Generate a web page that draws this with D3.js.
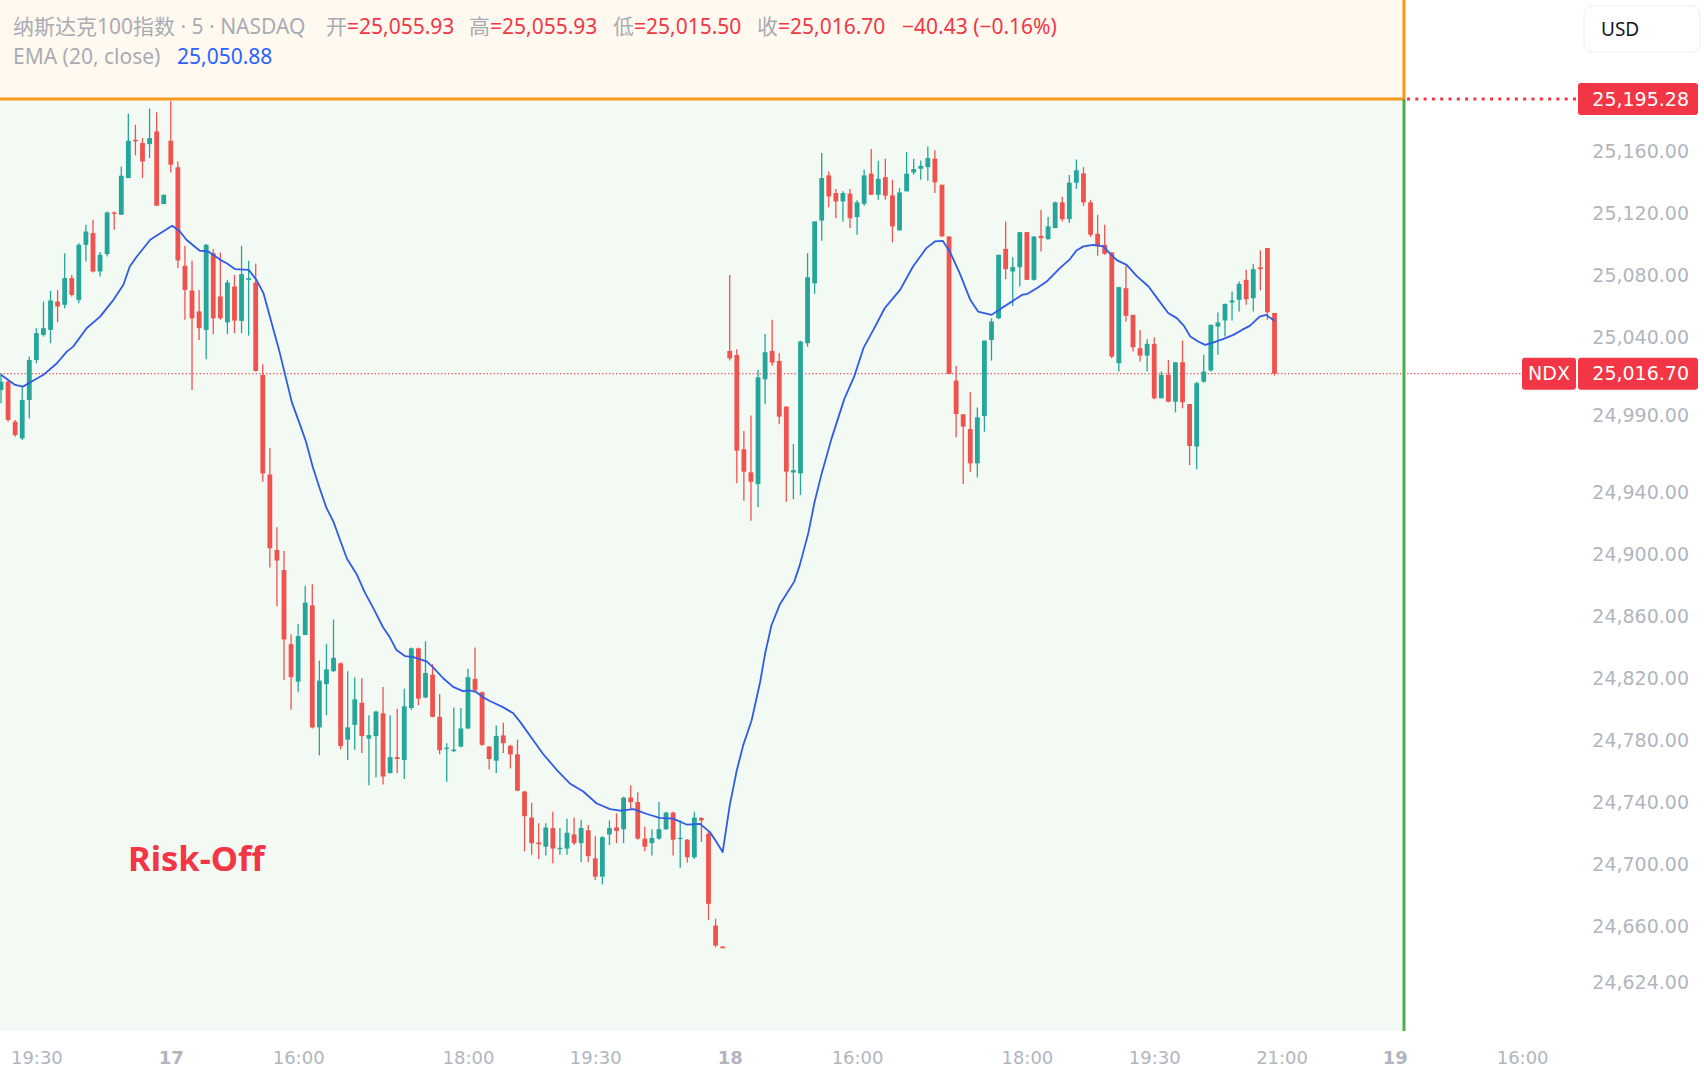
<!DOCTYPE html>
<html>
<head>
<meta charset="utf-8">
<script src="https://cdn.jsdelivr.net/npm/d3@7"></script>
<style>
body { margin: 0; background: #ffffff; }
svg { display: block; font-family: "Noto Sans", "Noto Sans CJK SC", sans-serif; }
</style>
</head>
<body>
<svg width="1704" height="1080"></svg>
<script>
// 5 min bars, bar 0 = 19:00 on the 16th, bar 24 = day 17 open, bar 103 = day 18 open
var barOpen = [
25006.2,25011.6,24985.8,24975.0,24999.8,25025.6,25041.8,25045.0,25063.3,25061.2,
25078.4,25064.4,25099.9,25107.5,25082.7,25093.9,25120.8,25119.3,25143.0,25167.7,
25165.6,25164.9,25173.1,25126.2,25167.1,25149.9,25086.4,25070.4,25056.9,25045.0,
25094.5,25066.6,25049.9,25073.0,25050.8,25077.3,25075.6,25015.9,24951.7,24903.0,
24890.0,24842.2,24818.0,24848.1,24867.2,24788.5,24816.4,24824.8,24829.8,24780.6,
24790.1,24804.4,24781.3,24782.9,24797.6,24759.1,24769.3,24767.5,24801.0,24839.5,
24807.8,24822.5,24795.3,24774.5,24773.1,24776.1,24787.8,24819.8,24811.2,24776.1,
24767.0,24783.3,24776.7,24771.1,24747.1,24730.3,24714.2,24711.5,24723.5,24709.9,
24710.3,24719.4,24713.8,24722.1,24704.0,24692.2,24719.4,24723.9,24722.8,24743.2,
24740.3,24716.7,24713.8,24716.7,24722.8,24733.5,24716.5,24716.0,24704.7,24730.0,
24719.8,24660.6,24647.0,25031.4,25028.8,24968.0,24953.1,24945.5,25013.1,25031.4,
25025.0,24995.5,24953.0,24952.4,25036.4,25075.1,25115.6,25144.7,25133.3,25127.9,
25132.9,25117.8,25126.4,25145.8,25132.2,25143.6,25131.8,25109.2,25134.4,25146.6,
25149.0,25150.1,25155.5,25138.7,25105.3,25012.3,24990.5,24981.0,24958.9,24989.4,
25038.5,25052.5,25097.3,25082.7,25085.5,25108.1,25077.3,25105.7,25103.6,25110.7,
25127.3,25116.5,25140.0,25146.0,25127.3,25107.0,25099.9,25095.0,25023.5,25071.9,
25054.7,25033.2,25028.4,25036.0,25000.9,25015.9,24998.7,25024.1,24997.2,24969.7,
25011.6,25018.8,25047.2,25051.1,25062.7,25064.4,25077.3,25065.5,25085.3,25097.8,
25055.93];
var barHigh = [
25017.0,25012.7,24986.9,25008.4,25027.8,25046.1,25063.3,25070.2,25070.8,25094.5,
25080.5,25101.0,25112.8,25116.1,25095.2,25121.4,25121.4,25150.5,25184.5,25177.4,
25168.8,25187.8,25185.4,25132.2,25192.5,25153.7,25099.3,25089.6,25070.8,25100.5,
25097.1,25094.9,25077.3,25080.5,25099.3,25089.6,25087.7,25022.8,24968.7,24917.7,
24902.3,24848.6,24855.4,24879.9,24880.8,24831.6,24842.2,24858.1,24830.4,24824.8,
24820.7,24820.2,24796.4,24799.2,24814.6,24796.4,24800.5,24813.5,24840.0,24840.0,
24844.0,24829.3,24810.0,24778.3,24801.4,24801.0,24826.4,24840.0,24811.6,24776.5,
24789.7,24791.5,24777.2,24780.6,24747.5,24739.8,24726.7,24726.7,24734.1,24723.5,
24729.6,24730.3,24728.9,24725.5,24718.3,24718.3,24728.5,24733.0,24743.7,24751.1,
24746.6,24724.4,24722.8,24740.3,24734.1,24734.0,24728.5,24716.5,24734.1,24730.6,
24722.0,24665.0,24647.3,25080.5,25032.5,24979.8,24989.7,25019.2,25042.4,25051.5,
25029.9,24995.5,24971.4,25038.0,25094.5,25115.0,25159.1,25147.3,25135.9,25134.4,
25135.9,25128.6,25148.4,25161.7,25154.2,25155.5,25141.9,25136.5,25159.8,25155.5,
25154.4,25163.4,25160.9,25138.7,25105.3,25021.7,24990.5,25004.7,24995.0,25038.1,
25052.5,25093.5,25115.0,25091.9,25108.1,25108.1,25105.3,25122.5,25117.8,25127.9,
25131.0,25145.0,25155.0,25150.0,25129.0,25119.3,25112.9,25095.0,25072.6,25086.4,
25054.7,25045.0,25039.0,25040.3,25018.1,25025.6,25024.1,25038.1,24997.2,25011.6,
25028.9,25048.3,25056.2,25061.8,25069.8,25076.2,25083.8,25087.7,25096.3,25097.8,
25055.93];
var barLow = [
24997.6,24985.8,24976.1,24973.9,24987.9,25023.5,25040.7,25036.4,25049.9,25059.0,
25066.6,25062.2,25089.2,25082.0,25079.4,25092.4,25109.6,25119.3,25143.0,25157.6,
25143.0,25155.9,25125.1,25126.2,25146.6,25084.9,25051.5,25006.2,25038.5,25026.1,
25042.2,25051.5,25042.2,25042.9,25042.9,25041.3,25018.1,24947.0,24891.6,24866.7,
24819.1,24799.9,24811.2,24848.1,24787.8,24770.4,24796.4,24824.1,24774.3,24767.5,
24774.0,24772.0,24751.1,24756.1,24751.6,24758.6,24759.1,24755.2,24799.9,24802.8,
24807.3,24794.9,24771.1,24753.4,24772.7,24775.6,24787.4,24811.9,24776.7,24761.3,
24759.1,24772.0,24762.0,24747.3,24708.5,24706.3,24703.6,24705.8,24700.8,24706.3,
24706.3,24712.6,24701.7,24701.7,24690.0,24687.2,24712.6,24713.8,24713.8,24735.3,
24716.0,24708.5,24705.8,24716.0,24722.3,24705.8,24697.9,24701.3,24703.6,24714.5,
24664.3,24646.6,24646.0,25025.2,24946.0,24934.8,24921.8,24930.5,24997.0,25021.8,
24984.1,24934.1,24935.6,24938.4,25034.2,25068.3,25102.5,25124.2,25117.1,25115.0,
25110.7,25106.4,25125.1,25132.2,25129.0,25129.0,25101.4,25109.2,25134.4,25145.1,
25141.9,25141.3,25133.3,25105.3,25016.6,24975.7,24945.5,24953.5,24949.8,24979.3,
25025.2,25051.9,25077.7,25060.5,25073.0,25077.3,25076.9,25095.6,25103.1,25110.7,
25115.0,25114.0,25136.0,25125.0,25104.9,25092.8,25093.5,25026.7,25018.1,25050.4,
25031.0,25024.6,25018.1,25000.2,25000.9,24998.3,24991.8,24994.4,24957.8,24955.0,
25011.0,25018.1,25028.9,25040.7,25051.1,25056.9,25061.2,25056.9,25070.4,25051.5,
25015.50];
var barClose = [
25011.6,24986.9,24977.2,24999.8,25025.6,25042.9,25046.1,25064.0,25060.1,25078.4,
25067.6,25099.9,25108.5,25082.7,25093.5,25120.8,25119.9,25144.5,25167.1,25166.7,
25153.7,25168.8,25125.1,25132.2,25151.6,25089.8,25070.8,25052.5,25046.1,25099.9,
25052.5,25052.5,25075.6,25051.0,25081.0,25078.4,25018.5,24952.4,24904.1,24896.2,
24845.2,24820.9,24847.4,24869.0,24788.5,24818.7,24825.9,24833.4,24776.5,24788.5,
24806.6,24782.9,24783.5,24798.7,24756.8,24769.3,24768.1,24802.1,24839.5,24807.1,
24823.6,24795.3,24773.8,24775.4,24774.2,24787.8,24820.9,24812.3,24777.2,24768.1,
24782.9,24778.3,24771.1,24747.7,24731.2,24713.8,24713.1,24723.9,24710.3,24710.8,
24720.5,24713.8,24723.5,24705.4,24692.2,24717.6,24723.5,24721.7,24743.2,24740.3,
24716.7,24711.5,24717.2,24722.8,24733.5,24716.0,24717.2,24704.7,24730.3,24728.5,
24674.6,24647.7,24646.0,25026.7,24967.1,24953.5,24947.0,25014.4,25030.6,25023.9,
24989.0,24953.5,24954.5,25037.5,25079.0,25115.0,25143.0,25131.1,25127.9,25133.3,
25117.1,25127.3,25144.7,25132.2,25142.5,25131.6,25111.8,25133.7,25145.8,25148.8,
25150.9,25155.9,25140.2,25105.3,25016.6,24990.7,24982.6,24958.9,24988.6,25038.1,
25050.4,25093.5,25084.2,25085.5,25108.1,25077.3,25105.3,25104.2,25111.8,25127.3,
25116.5,25140.0,25148.0,25127.3,25106.4,25098.9,25094.1,25027.8,25072.6,25054.1,
25033.8,25028.4,25036.0,25000.9,25015.9,24998.7,25024.1,24998.3,24970.1,25010.6,
25018.1,25048.3,25049.8,25061.8,25064.0,25074.7,25064.8,25084.2,25084.2,25056.4,
25016.70];

// EMA (20, close), at bar positions
var emaBar = [0,2,3.1,4.1,6,7.9,9.3,10.2,12.1,14,15.9,17.3,18.2,19.2,21.1,22.9,24.2,25.3,26.2,28.1,
29.3,31,31.9,33.1,35,36.1,37.1,38,39.3,41.1,42.3,43.1,44.1,45.1,46,47,47.9,48.9,50.3,51.4,
52.6,54,55,55.9,57.1,58.3,59.5,60.2,61.1,62.5,63.9,65.3,66.3,67.2,68.2,69.1,71,72.4,73.4,74.8,
76.6,78.5,80.4,82.3,84.2,86.1,87.5,89.4,91.3,93.1,95,96.9,98.8,100.2,101,102,103,104,104.9,106.1,
107.3,108,108.9,110.1,112.1,112.9,114.1,115,116,117.4,119.2,120.6,121.9,123.3,124.9,126.1,127.1,128.9,130.8,132,
133.1,134.1,135.5,137,138.1,140,141.4,143.1,144.3,145.1,146.4,147.8,149.7,151.1,152,153,154.4,155.8,156.7,157.7,
159.1,160.5,162.2,163.4,165,166.2,167.2,168.1,169.2,170.2,171.3,172.7,174.2,175.4,176.5,177.9,178.8,180];
var emaValue = [25016,25009.5,25008.4,25011,25016,25023.5,25031,25034.2,25046.1,25053.6,25064.4,25074.1,25085.9,25092.4,25103.2,25108.5,25112.2,25108.5,25103.2,25096.1,
25095.6,25090.2,25088,25084.2,25083.8,25077.3,25068.7,25053.6,25032.1,24998.4,24983.4,24973,24956,24942,24930.1,24921.1,24909.7,24897.3,24887.1,24875.8,
24865.6,24853.1,24846.3,24838.4,24834.5,24833.8,24832,24830.9,24827,24820.2,24814.6,24811.9,24812.3,24811.2,24807.8,24805.5,24801.4,24797.6,24791.9,24782.9,
24771.5,24761.3,24752.3,24747.1,24739.4,24735.7,24734.8,24735.7,24732.6,24730.1,24729.6,24725.8,24726.2,24720.9,24715.5,24708,24738.2,24760.8,24776.9,24793.1,
24817.8,24836.1,24854.4,24868,24882.4,24893.2,24913.7,24934.1,24952.4,24975,25000.5,25015,25033.2,25045,25059,25065.5,25071,25085.9,25097.8,25102.1,
25102.5,25095.6,25081.6,25064.4,25056.8,25054.7,25059,25063.9,25067.6,25068.3,25071.9,25076.2,25085,25090.7,25096.3,25098.9,25099.9,25098.9,25094.5,25090,
25087,25079.9,25073,25065.5,25055.8,25052.6,25047.6,25040.7,25037.5,25035.3,25036.8,25039,25041.8,25045,25047.6,25053.6,25054.7,25050.9];

var priceTicks = [25160, 25120, 25080, 25040, 24990, 24940, 24900, 24860, 24820, 24780, 24740, 24700, 24660, 24624];
var timeTickBar = [5, 24, 42, 66, 84, 103, 121, 145, 163, 181, 197, 215];
var timeTickText = ["19:30", "17", "16:00", "18:00", "19:30", "18", "16:00", "18:00", "19:30", "21:00", "19", "16:00"];
var dayTicks = ["17", "18", "19"];

var lastPrice = 25016.70, boxPrice = 25195.28, emaLast = 25050.88, prevClose = 25057.13;

var svg = d3.select("svg"),
    width = +svg.attr("width"),
    height = +svg.attr("height");

var plotRight = 1404, plotBottom = 1031;

var x = d3.scaleLinear().domain([0, 180]).range([1, 1274.5]);
var y = d3.scaleLinear().domain([24660, 25160]).range([926.5, 151.7]);

var red = "#f23645", candleRed = "#ef5350", candleGreen = "#26a69a", grey = "#a9acb4";
var topY = 99;

// backgrounds
svg.append("rect").attr("x", 0).attr("y", 0).attr("width", plotRight).attr("height", topY)
    .attr("fill", "#fff9ef");
svg.append("rect").attr("x", 0).attr("y", topY).attr("width", plotRight).attr("height", plotBottom - topY)
    .attr("fill", "#f3f9f3");

svg.append("defs").append("clipPath").attr("id", "plot")
    .append("rect").attr("x", 0).attr("y", topY + 1).attr("width", plotRight - 1).attr("height", plotBottom - topY - 1);

// last price dotted line
svg.append("line")
    .attr("x1", 0).attr("x2", 1521)
    .attr("y1", y(lastPrice)).attr("y2", y(lastPrice))
    .attr("stroke", red).attr("stroke-width", 1).attr("stroke-dasharray", "1.5,2");

var plot = svg.append("g").attr("clip-path", "url(#plot)");

var bars = d3.range(barOpen.length).map(function (i) {
    return {i: i, o: barOpen[i], h: barHigh[i], l: barLow[i], c: barClose[i]};
});

var candle = plot.append("g").selectAll("g")
    .data(bars)
    .enter().append("g")
    .attr("fill", function (d) { return d.c >= d.o ? candleGreen : candleRed; })
    .attr("stroke", function (d) { return d.c >= d.o ? candleGreen : candleRed; });

candle.append("line")
    .attr("x1", function (d) { return x(d.i); })
    .attr("x2", function (d) { return x(d.i); })
    .attr("y1", function (d) { return y(d.h); })
    .attr("y2", function (d) { return y(d.l); })
    .attr("stroke-width", 1.3);

candle.append("rect")
    .attr("stroke", "none")
    .attr("x", function (d) { return x(d.i) - 2.4; })
    .attr("width", 4.8)
    .attr("y", function (d) { return y(Math.max(d.o, d.c)); })
    .attr("height", function (d) { return Math.max(1.2, Math.abs(y(d.o) - y(d.c))); });

var emaLine = d3.line()
    .x(function (d, i) { return x(emaBar[i]); })
    .y(function (d) { return y(d); });

plot.append("path")
    .datum(emaValue)
    .attr("fill", "none")
    .attr("stroke", "#2f5be6")
    .attr("stroke-width", 1.8)
    .attr("stroke-linejoin", "round")
    .attr("d", emaLine);

plot.append("text")
    .attr("x", 128).attr("y", 871)
    .attr("fill", red)
    .attr("font-size", 34.5)
    .attr("font-weight", "bold")
    .text("Risk-Off");

// box edges
svg.append("line").attr("x1", 0).attr("x2", plotRight).attr("y1", topY).attr("y2", topY)
    .attr("stroke", "#f7991c").attr("stroke-width", 3);
svg.append("line").attr("x1", plotRight).attr("x2", plotRight).attr("y1", 0).attr("y2", topY)
    .attr("stroke", "#f7991c").attr("stroke-width", 3);
svg.append("line").attr("x1", plotRight).attr("x2", plotRight).attr("y1", topY).attr("y2", plotBottom)
    .attr("stroke", "#4caf50").attr("stroke-width", 3);
svg.append("line").attr("x1", plotRight + 3).attr("x2", 1578).attr("y1", topY).attr("y2", topY)
    .attr("stroke", red).attr("stroke-width", 3).attr("stroke-dasharray", "3,5.3");

// price axis
var yAxis = svg.append("g")
    .attr("transform", "translate(1689,0)")
    .call(d3.axisRight(y).tickValues(priceTicks).tickSize(0).tickFormat(d3.format(",.2f")));
yAxis.select(".domain").remove();
yAxis.selectAll("text")
    .attr("x", 0)
    .attr("text-anchor", "end")
    .attr("fill", "#b2b5be")
    .attr("font-family", "DejaVu Sans")
    .attr("font-size", 19);

// time axis
var xAxis = svg.append("g")
    .attr("transform", "translate(0,1048)")
    .call(d3.axisBottom(x).tickValues(timeTickBar).tickSize(0)
        .tickFormat(function (d) { return timeTickText[timeTickBar.indexOf(d)]; }));
xAxis.select(".domain").remove();
xAxis.selectAll("text")
    .attr("fill", "#b2b5be")
    .attr("font-family", "DejaVu Sans")
    .attr("font-size", 18)
    .attr("font-weight", function (d) { return dayTicks.indexOf(timeTickText[timeTickBar.indexOf(d)]) >= 0 ? "bold" : "normal"; });

// price labels
function priceTag(x0, w, yc, txt, anchor) {
    svg.append("rect").attr("x", x0).attr("y", yc - 16).attr("width", w).attr("height", 32)
        .attr("rx", 3).attr("fill", red);
    svg.append("text")
        .attr("x", anchor == "middle" ? x0 + w / 2 : x0 + w - 9)
        .attr("y", yc).attr("dy", "0.35em")
        .attr("text-anchor", anchor)
        .attr("fill", "#ffffff")
        .attr("font-family", "DejaVu Sans")
        .attr("font-size", 19)
        .text(txt);
}
priceTag(1578, 120, topY, d3.format(",.2f")(boxPrice), "end");
priceTag(1578, 120, y(lastPrice), d3.format(",.2f")(lastPrice), "end");
priceTag(1522, 54, y(lastPrice), "NDX", "middle");

// currency box
svg.append("rect").attr("x", 1584).attr("y", 6).attr("width", 116).attr("height", 46)
    .attr("rx", 8).attr("fill", "#ffffff").attr("stroke", "#eceef2");
svg.append("text").attr("x", 1601).attr("y", 29).attr("dy", "0.35em")
    .attr("fill", "#131722").attr("font-size", 19).text("USD");

// legend
var legend = svg.append("g").attr("font-size", 21);
legend.append("text").attr("x", 13).attr("y", 34).attr("fill", grey)
    .attr("xml:space", "preserve")
    .text("纳斯达克100指数 · 5 · NASDAQ");

var ohlcName = ["开", "高", "低", "收"];
var ohlcValue = [barOpen[180], barHigh[180], barLow[180], barClose[180]];
var ohlcX = [326, 469, 613, 757];
ohlcName.forEach(function (n, k) {
    var t = legend.append("text").attr("x", ohlcX[k]).attr("y", 34);
    t.append("tspan").attr("fill", grey).text(n);
    t.append("tspan").attr("fill", red).text("=" + d3.format(",.2f")(ohlcValue[k]));
});
var chg = barClose[180] - prevClose;
legend.append("text").attr("x", 902).attr("y", 34).attr("fill", red)
    .text("\u2212" + d3.format(".2f")(Math.abs(chg)) + " (\u2212" + d3.format(".2f")(Math.abs(chg) / prevClose * 100) + "%)");

legend.append("text").attr("x", 13).attr("y", 64).attr("fill", grey).text("EMA (20, close)");
legend.append("text").attr("x", 177).attr("y", 64).attr("fill", "#2962ff").text(d3.format(",.2f")(emaLast));
</script>
</body>
</html>
